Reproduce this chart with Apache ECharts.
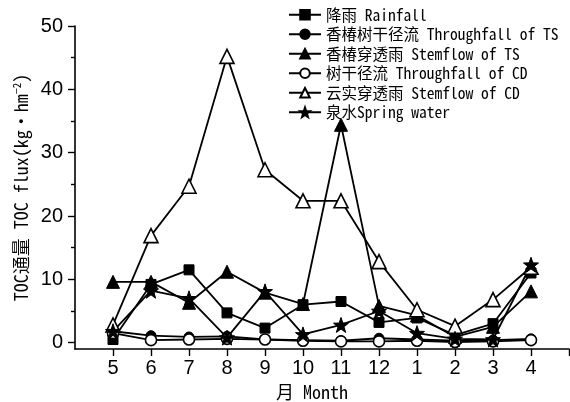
<!DOCTYPE html>
<html>
<head>
<meta charset="utf-8">
<script src="https://cdn.jsdelivr.net/npm/echarts@6/dist/echarts.min.js"></script>
<style>
  html, body { margin: 0; padding: 0; background: #fff; }
  #chart { width: 570px; height: 402px; }
</style>
</head>
<body>
<div id="chart"></div>
<script>
// Months of the hydrological year (May to April)
const months = ['5', '6', '7', '8', '9', '10', '11', '12', '1', '2', '3', '4'];

// TOC flux, kg·hm^-2
const rainfall        = [0.5, 9.2, 11.5, 4.7, 2.3, 6.0, 6.5, 3.2, 3.9, 1.2, 3.0, 11.0];
const throughfallTS   = [1.8, 1.1, 0.9, 1.0, 0.5, 0.4, 0.3, 0.7, 0.5, 0.3, 0.4, 0.6];
const stemflowTS      = [9.6, 9.6, 6.3, 11.2, 7.9, 6.1, 34.4, 5.8, 4.3, 0.9, 2.5, 8.1];
const throughfallCD   = [1.5, 0.4, 0.5, 0.6, 0.5, 0.3, 0.2, 0.2, 0.3, 0.1, 0.2, 0.4];
const stemflowCD      = [2.8, 16.9, 24.7, 45.2, 27.3, 22.4, 22.4, 12.8, 5.2, 2.6, 6.8, 11.9];
const springWater     = [1.8, 8.2, 7.0, 0.8, 8.1, 1.3, 2.8, 5.0, 1.5, 0.6, 0.5, 12.3];

// Axis ticks
const yMajorTicks = [0, 10, 20, 30, 40, 50];
const yMinorTicks = [5, 15, 25, 35, 45];

const seriesNames = [
  '降雨 Rainfall',
  '香椿树干径流 Throughfall of TS',
  '香椿穿透雨 Stemflow of TS',
  '树干径流 Throughfall of CD',
  '云实穿透雨 Stemflow of CD',
  '泉水Spring water'
];

const STAR = 'path://M0,-10L2.35,-3.24L9.51,-3.09L3.8,1.24L5.88,8.09L0,4L-5.88,8.09L-3.8,1.24L-9.51,-3.09L-2.35,-3.24Z';
const MONO = "'Noto Sans Mono CJK SC', 'DejaVu Sans Mono', 'Noto Sans CJK SC', monospace";

function toPoints(values) {
  return values.map((v, i) => [i + 1, v]);
}

function lineSeries(name, values, symbol, size, filled) {
  return {
    name: name,
    type: 'line',
    data: toPoints(values),
    symbol: symbol,
    symbolSize: size,
    showAllSymbol: true,
    lineStyle: { color: '#000', width: 1.8 },
    itemStyle: filled
      ? { color: '#000', borderColor: '#000', borderWidth: 1 }
      : { color: '#fff', borderColor: '#000', borderWidth: 1.6 },
    emphasis: { disabled: true },
    animation: false
  };
}

const chart = echarts.init(document.getElementById('chart'), null, { renderer: 'canvas' });

chart.setOption({
  backgroundColor: '#fff',
  animation: false,
  grid: { left: 75, right: 1, top: 26, bottom: 53, containLabel: false, outerBoundsMode: 'none' },
  legend: {
    orient: 'vertical',
    left: 283,
    top: 2,
    itemWidth: 32,
    itemHeight: 12,
    itemGap: 4,
    data: seriesNames,
    textStyle: { fontFamily: MONO, fontSize: 15.5, color: '#000' },
    selectedMode: false
  },
  xAxis: {
    type: 'value',
    min: 0,
    max: 13,
    interval: 1,
    name: '月 Month',
    nameLocation: 'middle',
    nameGap: 30,
    nameTextStyle: { fontFamily: MONO, fontSize: 18, color: '#000', padding: [0, 20, 0, 0] },
    axisLine: { onZero: false, lineStyle: { color: '#000', width: 1.6 } },
    axisTick: { inside: false, length: 7, lineStyle: { color: '#000', width: 1.4 },
                customValues: months.map((m, i) => i + 1).concat([13]) },
    axisLabel: {
      margin: 9,
      fontFamily: "'Liberation Sans', Arial, sans-serif",
      fontSize: 20,
      color: '#000',
      customValues: months.map((m, i) => i + 1),
      formatter: v => months[v - 1] || ''
    },
    splitLine: { show: false }
  },
  yAxis: [
    {
      type: 'value',
      min: -1,
      max: 50,
      name: '{a|TOC通量 TOC flux(kg·hm}{s|−2}{a|)}',
      nameLocation: 'middle',
      nameGap: 43,
      nameRotate: 90,
      nameTextStyle: {
        rich: {
          a: { fontFamily: MONO, fontSize: 18, color: '#000' },
          s: { fontFamily: MONO, fontSize: 11, color: '#000', verticalAlign: 'top', padding: [0, 0, 8, 0] }
        }
      },
      axisLine: { show: true, lineStyle: { color: '#000', width: 1.6 } },
      axisTick: { show: true, length: 7, lineStyle: { color: '#000', width: 1.4 }, customValues: yMajorTicks },
      axisLabel: {
        margin: 12,
        fontFamily: "'Liberation Sans', Arial, sans-serif",
        fontSize: 20,
        color: '#000',
        customValues: yMajorTicks
      },
      splitLine: { show: false }
    },
    {
      type: 'value',
      min: -1,
      max: 50,
      position: 'left',
      axisLine: { show: false },
      axisTick: { show: true, length: 4, lineStyle: { color: '#000', width: 1.4 }, customValues: yMinorTicks },
      axisLabel: { show: false },
      splitLine: { show: false }
    }
  ],
  series: [
    lineSeries(seriesNames[0], rainfall, 'rect', 10, true),
    lineSeries(seriesNames[1], throughfallTS, 'circle', 10, true),
    lineSeries(seriesNames[2], stemflowTS, 'triangle', 13, true),
    lineSeries(seriesNames[3], throughfallCD, 'circle', 11, false),
    lineSeries(seriesNames[4], stemflowCD, 'triangle', 14, false),
    lineSeries(seriesNames[5], springWater, STAR, 15, true)
  ]
});
</script>
</body>
</html>
